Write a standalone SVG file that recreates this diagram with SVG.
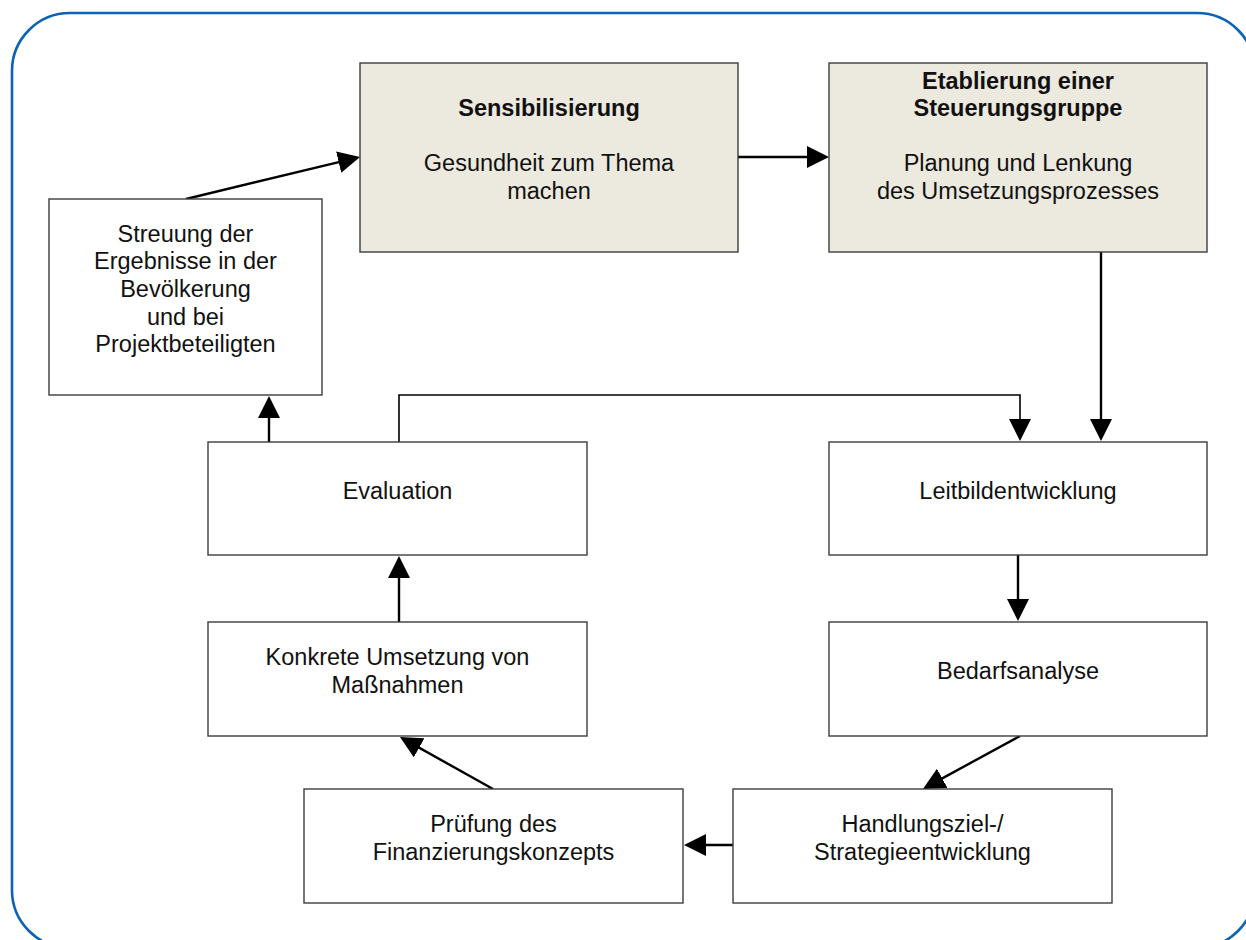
<svg xmlns="http://www.w3.org/2000/svg" width="1246" height="940" viewBox="0 0 1246 940">
<style>
.box{fill:#ffffff;stroke:#3c3c3c;stroke-width:1.4}
.hl{fill:#ece9df;stroke:#3c3c3c;stroke-width:1.4}
.t{font-family:"Liberation Sans",Arial,sans-serif;font-size:23.5px;fill:#111;text-anchor:middle}
.b{font-weight:bold}
.c{fill:none;stroke:#000;stroke-width:2.4}
.e{fill:none;stroke:#000;stroke-width:1.6}
</style>
<defs>
<marker id="ah" markerUnits="userSpaceOnUse" markerWidth="22" markerHeight="22" refX="12" refY="11" orient="auto">
<path d="M0,0 L22,11 L0,22 Z" fill="#000"/>
</marker>
</defs>
<rect x="12" y="13" width="1243" height="935" rx="58" ry="58" fill="none" stroke="#0b63b5" stroke-width="2.6"/>
<g id="connectors">
<line class="c" x1="186" y1="199" x2="350.3" y2="159.3" marker-end="url(#ah)"/>
<line class="c" x1="738" y1="157" x2="819" y2="157" marker-end="url(#ah)"/>
<line class="c" x1="1101" y1="252" x2="1101" y2="431" marker-end="url(#ah)"/>
<polyline class="e" points="399,444 399,395 1020,395 1020,431" marker-end="url(#ah)"/>
<line class="c" x1="269" y1="442" x2="269" y2="406" marker-end="url(#ah)"/>
<line class="c" x1="399" y1="622" x2="399" y2="566" marker-end="url(#ah)"/>
<line class="c" x1="1018" y1="555" x2="1018" y2="611" marker-end="url(#ah)"/>
<line class="c" x1="1020" y1="736" x2="931.7" y2="784.1" marker-end="url(#ah)"/>
<line class="c" x1="733" y1="845" x2="694" y2="845" marker-end="url(#ah)"/>
<line class="c" x1="493" y1="789" x2="408.7" y2="741.9" marker-end="url(#ah)"/>
</g>
<g id="streuung">
<rect class="box" x="49" y="199" width="273" height="196"/>
<text class="t" x="185.5" y="241.8">Streuung der</text>
<text class="t" x="185.5" y="269.4">Ergebnisse in der</text>
<text class="t" x="185.5" y="297">Bevölkerung</text>
<text class="t" x="185.5" y="324.6">und bei</text>
<text class="t" x="185.5" y="352.2">Projektbeteiligten</text>
</g>
<g id="sensibilisierung">
<rect class="hl" x="360" y="63" width="378" height="189"/>
<text class="t b" x="549" y="116.1">Sensibilisierung</text>
<text class="t" x="549" y="171.3">Gesundheit zum Thema</text>
<text class="t" x="549" y="198.9">machen</text>
</g>
<g id="etablierung">
<rect class="hl" x="829" y="63" width="378" height="189"/>
<text class="t b" x="1018" y="88.5">Etablierung einer</text>
<text class="t b" x="1018" y="116.1">Steuerungsgruppe</text>
<text class="t" x="1018" y="171.3">Planung und Lenkung</text>
<text class="t" x="1018" y="198.9">des Umsetzungsprozesses</text>
</g>
<g id="evaluation">
<rect class="box" x="208" y="442" width="379" height="113"/>
<text class="t" x="397.5" y="498.5">Evaluation</text>
</g>
<g id="leitbild">
<rect class="box" x="829" y="442" width="378" height="113"/>
<text class="t" x="1018" y="498.5">Leitbildentwicklung</text>
</g>
<g id="konkrete">
<rect class="box" x="208" y="622" width="379" height="114"/>
<text class="t" x="397.5" y="665.2">Konkrete Umsetzung von</text>
<text class="t" x="397.5" y="692.8">Maßnahmen</text>
</g>
<g id="bedarfsanalyse">
<rect class="box" x="829" y="622" width="378" height="114"/>
<text class="t" x="1018" y="679">Bedarfsanalyse</text>
</g>
<g id="pruefung">
<rect class="box" x="304" y="789" width="379" height="114"/>
<text class="t" x="493.5" y="832.2">Prüfung des</text>
<text class="t" x="493.5" y="859.8">Finanzierungskonzepts</text>
</g>
<g id="handlung">
<rect class="box" x="733" y="789" width="379" height="114"/>
<text class="t" x="922.5" y="832.2">Handlungsziel-/</text>
<text class="t" x="922.5" y="859.8">Strategieentwicklung</text>
</g>
</svg>
